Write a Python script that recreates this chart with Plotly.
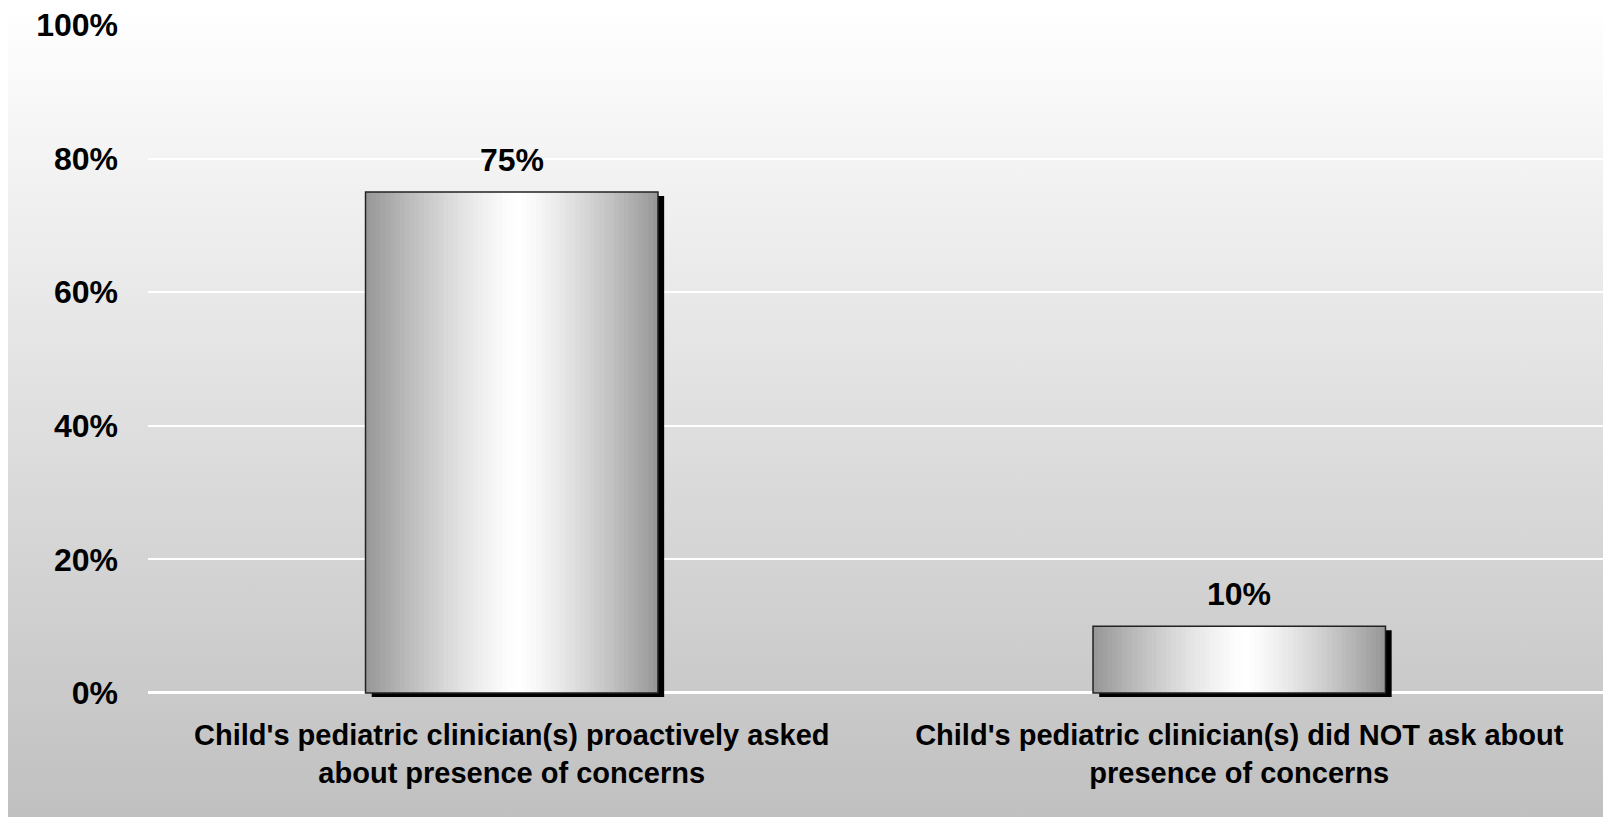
import base64
import plotly.graph_objects as go

# ---- data ----
categories = [
    "Child's pediatric clinician(s) proactively asked<br>about presence of concerns",
    "Child's pediatric clinician(s) did NOT ask about<br>presence of concerns",
]
values = [75, 10]
value_labels = ["75%", "10%"]
y_tickvals = [0, 20, 40, 60, 80, 100]
y_ticktext = ["0%", "20%", "40%", "60%", "80%", "100%"]

# ---- styling ----
FAMILY = "Liberation Sans, Arial, sans-serif"
NUM_FONT = dict(family=FAMILY, size=32, color="black", weight="bold")
CAT_FONT = dict(family=FAMILY, size=29, color="black", weight="bold")
BAR_W = 0.402
N_STRIPS = 60
SHADOW_DX = 0.0085   # category units
SHADOW_DY = 0.6      # value units


def strip_color(t, c=0.52, lo=150):
    d = abs(t - c) / (c if t < c else 1 - c)
    f = d ** 1.3
    v = int(round(255 - (255 - lo) * f))
    return f"rgb({v},{v},{v})"


fig = go.Figure()

# shadow
fig.add_trace(go.Bar(
    x=categories, y=values, base=-SHADOW_DY,
    width=BAR_W, offset=-BAR_W / 2 + SHADOW_DX,
    marker=dict(color="black", line=dict(width=0)),
    hoverinfo="skip", showlegend=False,
))

# gradient strips
sw = BAR_W / N_STRIPS
for i in range(N_STRIPS):
    t = (i + 0.5) / N_STRIPS
    w = sw * 1.6 if i < N_STRIPS - 1 else sw
    fig.add_trace(go.Bar(
        x=categories, y=values,
        width=w, offset=-BAR_W / 2 + i * sw,
        marker=dict(color=strip_color(t), line=dict(width=0)),
        hoverinfo="skip", showlegend=False,
    ))

# outline
fig.add_trace(go.Bar(
    x=categories, y=values,
    width=BAR_W, offset=-BAR_W / 2,
    marker=dict(color="rgba(0,0,0,0)", line=dict(color="#222222", width=1.5)),
    hoverinfo="skip", showlegend=False,
))

for c, v, lab in zip(categories, values, value_labels):
    fig.add_annotation(x=c, y=v, text=lab, showarrow=False, yanchor="bottom",
                       yshift=12, font=NUM_FONT)

svg = ('<svg xmlns="http://www.w3.org/2000/svg" width="100" height="100" preserveAspectRatio="none">'
       '<defs><linearGradient id="g" x1="0" y1="0" x2="0" y2="1">'
       '<stop offset="0" stop-color="#ffffff"/><stop offset="1" stop-color="#c0c0c0"/>'
       '</linearGradient></defs><rect width="100" height="100" fill="url(#g)"/></svg>')
src = "data:image/svg+xml;base64," + base64.b64encode(svg.encode()).decode()

W, H = 1603, 809
L, R, T, B = 140, 8, 17, 120
pw, ph = W - L - R, H - T - B
x0 = -L / pw
x1 = 1 + R / pw
y1 = 1 + T / ph
y0 = -B / ph

fig.add_layout_image(dict(
    source=src, xref="paper", yref="paper", x=x0, y=y1,
    sizex=x1 - x0, sizey=y1 - y0, sizing="stretch", xanchor="left", yanchor="top",
    layer="below",
))

fig.update_layout(
    width=W, height=H,
    margin=dict(l=L, r=R, t=T, b=B),
    paper_bgcolor="#ffffff", plot_bgcolor="rgba(0,0,0,0)",
    barmode="overlay", showlegend=False,
    xaxis=dict(showgrid=False, showline=False, ticks="", tickfont=CAT_FONT,
               ticklabelstandoff=18, automargin=False),
    yaxis=dict(range=[-SHADOW_DY, 100], tickvals=y_tickvals, ticktext=y_ticktext,
               showgrid=True, gridcolor="white", gridwidth=2,
               zeroline=True, zerolinecolor="white", zerolinewidth=2.5,
               showline=False, ticks="", tickfont=NUM_FONT, ticklabelstandoff=29,
               ticklabeloverflow="allow", automargin=False),
)

fig.write_html("out.html")
